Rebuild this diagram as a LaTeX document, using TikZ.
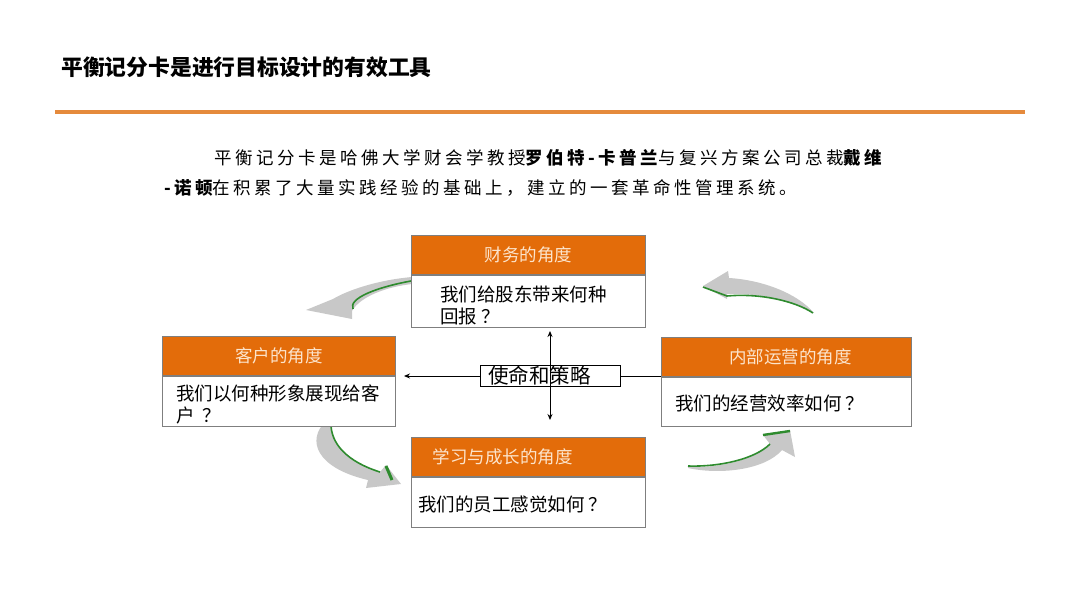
\documentclass[tikz,border=0pt]{standalone}
\usepackage{fontspec}
\setmainfont{Noto Sans CJK SC}
\usetikzlibrary{arrows.meta,positioning,calc}
\definecolor{deckorange}{HTML}{E36C0A}
\definecolor{ruleorange}{HTML}{E58A3C}
\definecolor{capcream}{HTML}{FCE4CC}
\definecolor{boxgray}{HTML}{7F7F7F}
\definecolor{swooshgray}{HTML}{C8C8C8}
\definecolor{swooshgreen}{HTML}{2E8B2E}
\newcommand{\qm}{\hspace{4pt}？}

\begin{document}
\begin{tikzpicture}[
  x=1pt, y=-1pt,
  >={Stealth[length=6pt,width=5pt]},
  hdr/.style={draw=boxgray, line width=1pt, fill=deckorange, text=capcream,
    minimum height=39pt, inner sep=0pt, anchor=north west,
    font=\fontsize{17.5}{20}\selectfont},
  pane/.style={draw=boxgray, line width=1pt, fill=white, inner sep=0pt, anchor=north},
  panetxt/.style={anchor=north west, align=left, inner sep=0pt,
    font=\fontsize{18.5}{22}\selectfont},
  lede/.style={anchor=west, inner sep=0pt,
    font=\fontsize{17.5}{20}\selectfont\addfontfeature{LetterSpace=20}},
  swoosh/.style={fill=swooshgray},
  swooshedge/.style={draw=swooshgreen, line width=1.6pt}
]
  \fill[white] (0,0) rectangle (1080,608);
  \useasboundingbox (0,0) rectangle (1080,608);

  % title and rule
  \node[anchor=west, inner sep=0pt, font=\bfseries\fontsize{21.8}{24}\selectfont] (ttl) at (61,67)
    {平衡记分卡是进行目标设计的有效工具};
  \draw[ruleorange, line width=4pt] (55,112) -- (1025,112);

  % intro text
  \node[lede] (intro1) at (214,158)
    {平衡记分卡是哈佛大学财会学教授{\bfseries 罗伯特-卡普兰}与复兴方案公司总裁{\bfseries 戴维}};
  \node[lede] (intro2) at (164,188)
    {{\bfseries -诺顿}在积累了大量实践经验的基础上，建立的一套革命性管理系统。};

  % curved arrows round the cycle
  % finance -> customer
  \fill[swoosh] (412,277) .. controls (378,280) and (348,290) .. (333,299)
    -- (306,310) -- (352,319) -- (352,311)
    .. controls (360,297) and (385,287) .. (412,284) -- cycle;
  \draw[swooshedge] (411,281) .. controls (378,287) and (348,298) .. (353,309);
  % internal -> finance
  \fill[swoosh] (703,286) -- (728,271) -- (729,278)
    .. controls (762,280) and (797,293) .. (814,313)
    .. controls (795,301) and (760,293) .. (727,294) -- (727,299) -- cycle;
  \draw[swooshedge] (703,287) -- (727,296)
    .. controls (760,293) and (795,301) .. (813,313);
  % customer -> learning
  \fill[swoosh] (326,421) .. controls (306,440) and (316,468) .. (368,480)
    -- (366,488) -- (401,484) -- (386,465) -- (380,472)
    .. controls (348,462) and (330,444) .. (331,421) -- cycle;
  \draw[swooshedge] (331,422) .. controls (330,444) and (348,462) .. (380,472);
  \draw[swooshedge, line width=3pt] (386,466) -- (392,480);
  % learning -> internal
  \fill[swoosh] (688,467) .. controls (720,468) and (755,460) .. (770,444)
    -- (763,435) -- (790,430) -- (795,457) -- (782,450)
    .. controls (765,470) and (720,475) .. (688,468) -- cycle;
  \draw[swooshedge] (688,466) .. controls (720,467) and (755,459) .. (770,444);
  \draw[swooshedge, line width=2.4pt] (763,435) -- (790,431);

  % finance
  \node[hdr, minimum width=234pt] (finH) at (411,235) {财务的角度};
  \node[pane, minimum width=234pt, minimum height=52pt] (finB) at (finH.south) {};
  \node[panetxt] (finT) at (440,286) {我们给股东带来何种\\回报\qm};

  % customer
  \node[hdr, minimum width=233pt] (cusH) at (162,336) {客户的角度};
  \node[pane, minimum width=233pt, minimum height=50pt] (cusB) at (cusH.south) {};
  \node[panetxt] (cusT) at (176,385) {我们以何种形象展现给客\\户 \qm};

  % internal process
  \node[hdr, minimum width=250pt] (intH) at (661,337) {\makebox[130pt][r]{内部运营的角度}};
  \node[pane, minimum width=250pt, minimum height=49pt] (intB) at (intH.south) {};
  \node[panetxt] (intT) at (675,395) {我们的经营效率如何\qm};

  % learning and growth
  \node[hdr, minimum width=234pt] (lrnH) at (411,437) {\makebox[192pt][l]{学习与成长的角度}};
  \node[pane, minimum width=234pt, minimum height=50pt] (lrnB) at (lrnH.south) {};
  \node[panetxt] (lrnT) at (418,496) {我们的员工感觉如何\qm};

  % mission in the middle
  \node[draw=black, line width=0.9pt, fill=white, minimum width=140pt, minimum height=21pt,
    inner sep=0pt, font=\fontsize{20.5}{22}\selectfont] (mis) at (550,376)
    {\makebox[124pt][l]{使命和策略}};
  \draw[->, line width=0.9pt, shorten >=8pt] (mis.west) -- (mis.west -| cusB.east);
  \draw[line width=0.9pt] (mis.east) -- (mis.east -| intB.west);
  \draw[<->, line width=0.9pt, shorten <=3pt, shorten >=17pt] (mis |- finB.south) -- (mis |- lrnH.north);

\end{tikzpicture}
\end{document}
